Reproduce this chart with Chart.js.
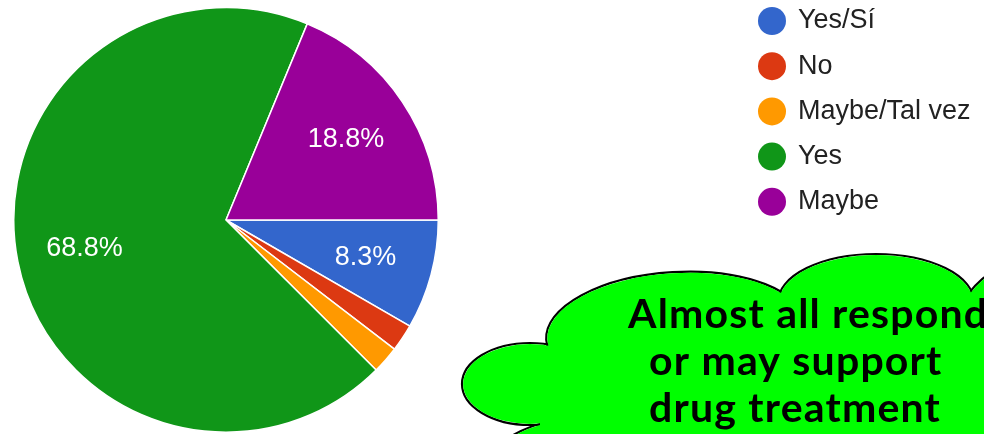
<!DOCTYPE html>
<html>
<head>
<meta charset="utf-8">
<script src="https://cdn.jsdelivr.net/npm/chart.js@4/dist/chart.umd.min.js"></script>
<style>
  html, body { margin: 0; padding: 0; background: #fff; }
  #wrap { width: 984px; height: 434px; position: relative; }
</style>
</head>
<body>
<div id="wrap"><canvas id="pie-chart"></canvas></div>
<script>
// responses (out of 48)
const labels = ["Yes/Sí", "No", "Maybe/Tal vez", "Yes", "Maybe"];
const counts = [4, 1, 1, 33, 9];
const colors = ["#3366cc", "#dc3912", "#ff9900", "#109618", "#990099"];
const calloutLines = ["Almost all respondents", "or may support", "drug treatment"];

// slice percentages inside the pie
const pctLabels = {
  id: "pctLabels",
  afterDatasetsDraw(chart) {
    const ctx = chart.ctx;
    const total = counts.reduce((a, b) => a + b, 0);
    const meta = chart.getDatasetMeta(0);
    ctx.save();
    ctx.font = "27px 'Liberation Sans', Arial, sans-serif";
    ctx.fillStyle = "#ffffff";
    ctx.textAlign = "center";
    ctx.textBaseline = "middle";
    meta.data.forEach((arc, i) => {
      const pct = (counts[i] / total) * 100;
      if (pct < 5) return;
      const p = arc.getProps(["x", "y", "startAngle", "endAngle", "outerRadius"], true);
      const mid = (p.startAngle + p.endAngle) / 2;
      const r = p.outerRadius * 0.68;
      ctx.fillText(pct.toFixed(1) + "%", p.x + Math.cos(mid) * r, p.y + Math.sin(mid) * r);
    });
    ctx.restore();
  },
};

// legend on the right, dots + labels
const sideLegend = {
  id: "sideLegend",
  afterDraw(chart) {
    const ctx = chart.ctx;
    ctx.save();
    ctx.font = "27px 'Liberation Sans', Arial, sans-serif";
    ctx.textBaseline = "middle";
    labels.forEach((lab, i) => {
      const y = 21 + i * 45.2;
      ctx.beginPath();
      ctx.arc(772, y, 14, 0, Math.PI * 2);
      ctx.fillStyle = colors[i];
      ctx.fill();
      ctx.fillStyle = "#222222";
      ctx.fillText(lab, 798, y);
    });
    ctx.restore();
  },
};

// green cloud callout
const cloud = {
  id: "cloud",
  afterDraw(chart) {
    const ctx = chart.ctx;
    const lumps = [
      [530, 384, 68, 41, 0],
      [676, 332, 130, 60, -0.06],
      [876, 302, 98, 48, 0],
      [1045, 335, 90, 78, 0],
      [585, 474, 100, 56, 0],
    ];
    ctx.save();
    ctx.lineWidth = 2.2;
    ctx.strokeStyle = "#000000";
    lumps.forEach(([x, y, rx, ry, rot]) => {
      ctx.beginPath();
      ctx.ellipse(x, y, rx, ry, rot, 0, Math.PI * 2);
      ctx.stroke();
    });
    ctx.fillStyle = "#00ff00";
    lumps.forEach(([x, y, rx, ry, rot]) => {
      ctx.beginPath();
      ctx.ellipse(x, y, rx - 1.1, ry - 1.1, rot, 0, Math.PI * 2);
      ctx.fill();
    });
    // fill the middle of the cloud
    ctx.beginPath();
    ctx.moveTo(540, 415);
    ctx.lineTo(560, 360);
    ctx.lineTo(620, 320);
    ctx.lineTo(780, 300);
    ctx.lineTo(880, 290);
    ctx.lineTo(984, 300);
    ctx.lineTo(984, 434);
    ctx.lineTo(540, 434);
    ctx.closePath();
    ctx.fill();

    ctx.fillStyle = "#000000";
    ctx.font = "bold 41px Lato, 'DejaVu Sans', sans-serif";
    ctx.letterSpacing = "1.2px";
    ctx.textBaseline = "alphabetic";
    ctx.fillText(calloutLines[0], 628, 328);
    ctx.fillText(calloutLines[1], 649, 375);
    ctx.fillText(calloutLines[2], 649, 422);
    ctx.restore();
  },
};

new Chart(document.getElementById("pie-chart"), {
  type: "pie",
  data: {
    labels,
    datasets: [
      {
        data: counts,
        backgroundColor: colors,
        borderColor: "#ffffff",
        borderWidth: 1.5,
      },
    ],
  },
  options: {
    responsive: true,
    maintainAspectRatio: false,
    animation: false,
    rotation: 90,
    layout: { padding: { left: 13, top: 7, right: 545, bottom: 1 } },
    plugins: {
      legend: { display: false },
      tooltip: { enabled: false },
    },
  },
  plugins: [pctLabels, sideLegend, cloud],
});
</script>
</body>
</html>
